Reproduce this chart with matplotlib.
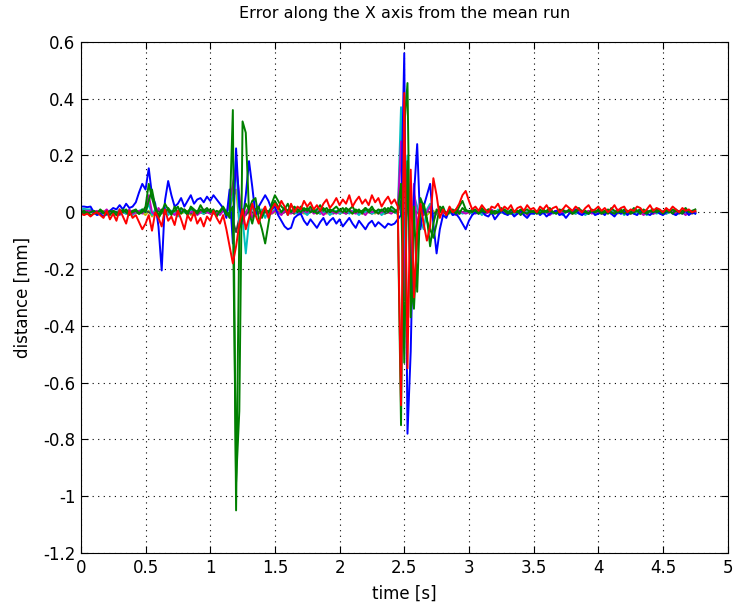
import numpy as np
import matplotlib
matplotlib.use("Agg")
import matplotlib.pyplot as plt

# sampling of the runs: 0.025 s steps from 0 to 4.75 s
time_s = np.linspace(0.0, 4.75, 191)

x_ticks = [0, 0.5, 1, 1.5, 2, 2.5, 3, 3.5, 4, 4.5, 5]
x_labels = ["0", "0.5", "1", "1.5", "2", "2.5", "3", "3.5", "4", "4.5", "5"]
y_ticks = [-1.2, -1.0, -0.8, -0.6, -0.4, -0.2, 0.0, 0.2, 0.4, 0.6]
y_labels = ["-1.2", "-1", "-0.8", "-0.6", "-0.4", "-0.2", "0", "0.2", "0.4", "0.6"]

# error of each run from the mean run, in micrometres
blue_um = [
    20, 20, 18, 20, 0, -10, -5, -15, -5, 5, 15, 10, 25, 10, 30, 15, 20, 35, 70, 100,
    80, 155, 60, 30, -50, -205, 40, 110, 60, 20, 30, 50, 20, 40, 60, 30, 45, 50, 35, 55,
    40, 60, 45, 30, 15, -20, 80, -110, 225, 20, -30, 60, 180, 90, -10, 20, 40, 60, 40, 10,
    20, -10, -30, -50, -60, -55, -20, -10, -5, -30, -45, -25, -40, -55, -35, -20, -45, -30, -20, -40,
    -25, -50, -35, -20, -40, -55, -30, -45, -60, -40, -30, -50, -35, -45, -55, -40, -45, -40, -25, -10,
    560, -780, -490, 60, 240, -60, 20, 60, 100, -40, -145, -60, -10, -20, 10, -10, -5, -20, -40, -60,
    -30, -10, 0, -5, 5, -10, -15, 0, -25, -10, 5, -5, -10, 0, -15, -5, 5, -10, -20, -5,
    -5, 5, -10, 0, -15, -5, 0, 5, -10, -5, -20, -5, 0, 10, -5, -10, 0, -5, 5, -10,
    -5, 0, -10, 5, -5, -15, 0, -5, 5, -10, 0, -5, -10, 5, 0, -5, -10, 0, 5, -5,
    -10, 0, 5, -5, -10, 0, -5, 5, -10, 0, -5,
]
green_a_um = [
    -5, -5, 0, -10, -5, 0, 5, -5, 0, -10, 5, 0, -5, 10, 0, -10, 5, 10, -5, 0,
    20, 100, 50, 10, -20, 0, 30, 10, -10, 20, 0, 15, 5, -10, 20, 10, 0, 25, 5, 15,
    0, 10, -15, 5, 20, 0, -20, 360, -1050, -60, -20, 30, 10, 40, 50, -20, -60, -110, -40, 30,
    60, 40, 20, 10, 30, 0, 20, 10, 0, 15, 5, 20, 0, 10, 25, 5, 15, 0, 10, 20,
    5, 15, 0, 10, 20, 0, 10, -5, 15, 5, 20, 0, 10, 5, 15, 0, 20, 10, 0, -750,
    300, 455, -370, 20, -280, 50, 20, -30, -60, -90, -40, 20, 10, -10, 0, 10, -5, 20, 40, 10,
    0, 10, 5, -5, 15, 0, 10, -5, 5, 0, 15, 5, -5, 10, 0, 5, -10, 5, 10, 0,
    5, -5, 10, 0, 5, 15, 0, -5, 10, 5, 0, 10, -5, 5, 15, 0, 5, -5, 10, 0,
    10, 0, 5, -5, 15, 5, 0, 10, -5, 5, 0, 15, 5, -5, 10, 0, 5, 10, 0, 5,
    0, 10, 5, -5, 10, 0, 5, 15, 0, 5, 10,
]
green_b_um = [
    0, 5, -5, 0, 5, -5, 10, 0, -5, 5, 0, -10, 5, 0, 10, -5, 0, 5, -5, 10,
    0, 40, 80, 20, -10, 10, -5, 15, 0, 5, 20, -5, 10, 0, 15, 5, -5, 10, 0, 5,
    10, -5, 5, 0, 15, -10, 0, 20, -950, -700, 320, 280, 0, -40, 10, 20, -20, 10, 0, 20,
    40, 20, 0, 15, 5, 25, 10, 0, 20, 5, 15, 0, 10, -5, 5, 15, 0, 10, 5, 0,
    10, 0, 15, 5, -5, 10, 0, 5, 15, 0, 10, 5, -5, 10, 0, 15, 5, 0, 10, 100,
    -530, 180, -250, -340, -100, 0, 30, -20, -120, -40, 10, 0, 20, -10, 5, 0, 10, -5, 15, 5,
    5, 0, 10, -5, 5, 0, 10, 5, -5, 0, 5, 10, 0, -5, 5, 0, 10, 0, -5, 5,
    0, 5, -5, 10, 0, 5, 0, -5, 5, 10, 0, 5, -5, 0, 10, 5, 0, -5, 5, 0,
    5, -5, 0, 10, 0, -5, 5, 0, 10, 5, -5, 0, 5, 10, 0, -5, 5, 0, 10, 5,
    -5, 5, 0, 10, 5, 0, -5, 10, 5, 0, 5,
]
red_um = [
    -5, -10, -5, -15, -5, 0, -10, -20, 5, -25, -5, -30, 10, -15, -40, 5, -20, -10, -35, -60,
    -40, -10, -65, 0, -20, -50, 10, -30, -15, -45, 5, -25, -60, -10, -30, 0, -40, -20, -50, -15,
    -30, 5, -20, -40, -10, -60, -120, -180, -120, -40, 10, -60, -20, 30, -10, -40, 0, 20, -20, 10,
    30, 10, 40, 20, -10, 30, 0, 20, 10, 40, 20, 35, 10, 25, 5, 30, 45, 15, 30, 50,
    25, 45, 30, 60, 20, 40, 55, 30, 45, 25, 60, 35, 50, 20, 40, 55, 30, 45, 20, -680,
    420, -550, 150, -300, -60, 30, -40, -100, -50, 120, 60, -20, 10, -10, 20, 0, 10, 30, 60, 75,
    40, 10, 20, 5, 25, 10, 0, 20, 15, 30, 5, 20, 10, 25, 0, 15, 20, 5, 25, 10,
    15, 0, 20, 10, 25, 5, 15, 20, 0, 10, 25, 15, 5, 20, 10, 0, 15, 25, 5, 10,
    20, 5, 15, 0, 10, 25, 5, 15, 20, 0, 10, 5, 20, 15, 0, 10, 25, 5, 15, 10,
    0, 15, 5, 20, 10, 0, 15, 5, 10, 0, 5,
]
cyan_um = [
    10, 12, 10, 10, 0, -5, 5, 0, -10, 5, 0, -5, 10, 0, -5, 5, -10, 0, 5, 10,
    0, 30, -10, 10, -20, 0, 15, -10, 5, 0, -15, 10, 0, -5, 10, -10, 5, 0, -5, 10,
    0, 5, -10, 0, 10, -5, 20, 60, 190, -50, -20, -145, -30, 20, -10, 0, 10, -20, 5, 0,
    10, -5, 0, 15, -10, 5, 0, -5, 10, 0, -10, 5, 0, 10, -5, 0, 5, -10, 0, 5,
    -5, 0, 10, -5, 5, 0, -10, 5, 0, 10, -5, 0, 5, -10, 0, 5, 10, 0, -5, 370,
    -150, 200, -300, 60, 20, -30, -60, 10, 30, -20, 0, 10, -5, 0, 5, -10, 0, 5, -5, 0,
    5, -5, 0, 5, -10, 0, 5, 0, -5, 10, 0, -5, 5, 0, -10, 5, 0, -5, 0, 5,
    -5, 0, 5, -5, 0, 10, -5, 0, 5, -10, 0, 5, 0, -5, 5, 0, -10, 0, 5, -5,
    0, 5, -5, 0, 10, -5, 0, 5, -10, 0, 5, -5, 0, 5, 0, -10, 5, 0, -5, 0,
    5, -5, 0, 5, -10, 0, 5, -5, 0, 5, -5,
]
magenta_um = [
    5, 5, 5, 5, 0, 5, -5, 0, 10, -5, 5, 0, -10, 5, 0, 10, -5, 0, 5, -5,
    10, 60, 0, -10, 15, 0, -5, 10, 0, -10, 5, 0, 10, -5, 0, 5, -10, 0, 10, 0,
    -5, 5, 0, -10, 5, 0, 30, 100, 160, 60, -40, 0, 20, -20, 5, 0, -10, 10, 0, -5,
    5, 0, -10, 5, 0, -5, 10, 0, -5, 5, 0, 10, -5, 0, 5, -10, 0, 5, 0, -5,
    5, 0, -5, 10, 0, -5, 5, 0, -10, 5, 0, 5, -5, 0, 10, 0, -5, 5, 0, 250,
    -310, 150, -250, 100, -60, 30, -10, 0, 20, -30, 0, 10, -5, 0, 5, 0, -10, 5, 0, -5,
    0, 5, -5, 0, 5, -5, 0, 10, 0, -5, 5, 0, -5, 0, 5, -5, 0, 5, -10, 0,
    5, 0, -5, 5, 0, -10, 0, 5, -5, 0, 5, 0, -5, 10, 0, -5, 0, 5, -5, 0,
    0, -5, 5, 0, -5, 0, 10, -5, 0, 5, -5, 0, 5, 0, -10, 0, 5, -5, 0, 5,
    -5, 0, 5, 0, -5, 5, 0, -10, 0, 5, 0,
]
yellow_um = [
    5, 5, 5, 5, 0, -5, 0, 5, -5, 0, 5, -10, 0, 5, 0, -5, 5, 0, -5, 0,
    -10, 5, -15, 0, 5, -5, 0, 10, -5, 0, 5, -5, 0, 5, -10, 0, 5, 0, -5, 0,
    5, 0, -5, 0, 10, 0, 20, 50, 80, -40, -20, 0, 10, -10, 5, 0, -5, 0, 5, -5,
    0, 5, -5, 0, 5, 0, -5, 5, 0, -5, 0, 5, 0, -5, 5, 0, -5, 0, 5, 0,
    -5, 0, 5, 0, -5, 5, 0, -5, 0, 5, 0, -5, 5, 0, -5, 0, 5, 0, -5, 100,
    -80, 40, -20, 10, -5, 0, 5, -10, 0, 5, -5, 0, 5, 0, -5, 5, 0, -5, 0, 5,
    0, -5, 5, 0, -5, 0, 5, 0, -5, 5, 0, -5, 0, 5, 0, -5, 5, 0, -5, 0,
    5, 0, -5, 0, 5, -5, 0, 5, 0, -5, 5, 0, -5, 0, 5, 0, -5, 5, 0, -5,
    0, 5, 0, -5, 5, 0, -5, 0, 5, 0, -5, 5, 0, -5, 0, 5, 0, -5, 5, 0,
    -5, 0, 5, 0, -5, 5, 0, -5, 0, 5, 0,
]
grey_um = [
    0, 0, 0, 0, 5, 0, -5, 0, 5, 0, -5, 0, 5, 0, -5, 0, 5, 0, -5, 0,
    5, 0, -5, 0, 5, 0, -5, 0, 5, 0, -5, 0, 5, 0, -5, 0, 5, 0, -5, 0,
    5, 0, -5, 0, 5, 0, -10, -30, -70, -20, 10, -10, 5, 0, -5, 0, 5, 0, -5, 0,
    5, 0, -5, 0, 5, 0, -5, 0, 5, 0, -5, 0, 5, 0, -5, 0, 5, 0, -5, 0,
    5, 0, -5, 0, 5, 0, -5, 0, 5, 0, -5, 0, 5, 0, -5, 0, 5, 0, -5, 40,
    -60, 20, -10, 5, 0, -5, 0, 5, 0, -5, 0, 5, 0, -5, 0, 5, 0, -5, 0, 5,
    0, -5, 0, 5, 0, -5, 0, 5, 0, -5, 0, 5, 0, -5, 0, 5, 0, -5, 0, 5,
    0, -5, 0, 5, 0, -5, 0, 5, 0, -5, 0, 5, 0, -5, 0, 5, 0, -5, 0, 5,
    0, -5, 0, 5, 0, -5, 0, 5, 0, -5, 0, 5, 0, -5, 0, 5, 0, -5, 0, 5,
    0, -5, 0, 5, 0, -5, 0, 5, 0, -5, 0,
]

# drawing order: last one ends up on top
runs = [
    (yellow_um, (0.75, 0.75, 0.0)),
    (grey_um, (0.25, 0.25, 0.25)),
    (cyan_um, (0.0, 0.75, 0.75)),
    (magenta_um, (0.75, 0.0, 0.75)),
    (blue_um, (0.0, 0.0, 1.0)),
    (green_b_um, (0.0, 0.5, 0.0)),
    (green_a_um, (0.0, 0.5, 0.0)),
    (red_um, (1.0, 0.0, 0.0)),
]

plt.rcParams["font.family"] = ["DejaVu Sans"]
plt.rcParams["axes.unicode_minus"] = False

fig = plt.figure(figsize=(7.35, 6.07), dpi=100)
ax = fig.add_axes([0.110, 0.089, 0.880, 0.842])

for values, color in runs:
    ax.plot(time_s, np.array(values) / 1000.0, color=color, lw=1.4)

ax.set_xlim(0, 5)
ax.set_ylim(-1.2, 0.6)
ax.set_xticks(x_ticks)
ax.set_xticklabels(x_labels)
ax.set_yticks(y_ticks)
ax.set_yticklabels(y_labels)
ax.tick_params(direction="in", top=True, right=True, length=5, width=0.8,
               labelsize=12, pad=4)
ax.grid(True, color="black", linestyle=(0, (1, 4)), linewidth=0.8)
for sp in ax.spines.values():
    sp.set_linewidth(0.8)

ax.set_title("Error along the X axis from the mean run", fontsize=11.5, pad=17)
ax.set_xlabel("time [s]", fontsize=12, labelpad=6)
ax.set_ylabel("distance [mm]", fontsize=12, labelpad=8)

fig.savefig("out.png", dpi=100)
